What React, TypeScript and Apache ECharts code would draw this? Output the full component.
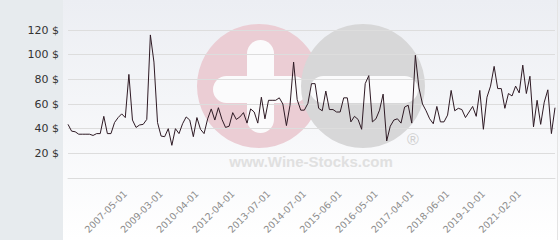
import React, { useEffect, useRef } from "react";
import * as echarts from "echarts";

const prices: number[] = [
  43.5, 38, 37.5, 35.5, 35.5, 35.5, 35.5, 34.5, 36, 36,
  50, 36, 36, 45, 49, 52, 49, 84, 47, 41,
  43, 43.5, 47.5, 116, 94, 45, 34, 33.5, 40, 26.5,
  40, 36, 44, 49.5, 47, 33.5, 49, 39.5, 36, 48,
  56, 47, 57, 47.5, 41, 42, 53, 47.5, 49.5, 53,
  44.5, 56, 53.5, 44.5, 65.5, 48, 63, 63, 63, 65,
  60, 42.5, 59, 94, 63.5, 55, 55, 60.5, 76.5, 76.5,
  56.5, 54.5, 70.5, 55.5, 55.5, 53.5, 53.5, 65, 65, 45.5,
  50, 47.5, 39.5, 76.5, 83, 45.5, 48, 55, 68, 30,
  42, 47, 48, 44.5, 57.5, 59, 44.5, 99.5, 73, 60,
  54.5, 48, 44, 58, 45.5, 45.5, 51, 71, 54.5, 56.5,
  55.5, 49, 53.5, 58, 50, 71, 39.5, 65.5, 74.5, 90.5,
  72.5, 72.5, 56.5, 68.5, 66.5, 74.5, 69, 91.5, 68.5, 82.5,
  41.5, 63, 43.5, 61.5, 71.5, 36, 57,
];

const tickDates: string[] = [
  "2007-05-01", "2009-03-01", "2010-04-01", "2012-04-01", "2013-07-01", "2014-07-01",
  "2015-06-01", "2016-05-01", "2017-04-01", "2018-06-01", "2019-10-01", "2021-02-01",
];
// index in the price list where each dated tick falls
const tickIndices: number[] = [16, 26, 36, 46, 56, 66, 76, 86, 96, 106, 116, 126];

const yTicks: number[] = [0, 20, 40, 60, 80, 100, 120];

const categories: string[] = prices.map((_, i) => {
  const k = tickIndices.indexOf(i);
  return k >= 0 ? tickDates[k] : `p${i}`;
});

export default function App() {
  const ref = useRef<HTMLDivElement>(null);
  useEffect(() => {
    if (!ref.current) return;
    const chart = echarts.init(ref.current, undefined, { renderer: "svg" });
    chart.setOption({
      animation: false,
      graphic: {
        elements: [
          {
            type: "rect", z: -20, silent: true,
            shape: { x: 0, y: 0, width: 560, height: 240 },
            style: {
              fill: new echarts.graphic.LinearGradient(0, 0, 0, 1, [
                { offset: 0, color: "#eceef3" },
                { offset: 1, color: "#ffffff" },
              ]),
            },
          },
          {
            type: "rect", z: -19, silent: true,
            shape: { x: 0, y: 0, width: 63, height: 240 },
            style: { fill: "#e7ebee" },
          },
          {
            type: "line", z: -19, silent: true,
            shape: { x1: 557.5, y1: 0, x2: 557.5, y2: 240 },
            style: { stroke: "#e4e4e4", lineWidth: 1 },
          },
          {
            type: "circle", z: -10, silent: true,
            shape: { cx: 259, cy: 86, r: 62 },
            style: { fill: "#ebcdd4" },
          },
          {
            type: "rect", z: -9, silent: true,
            shape: { x: 247, y: 40, width: 27, height: 93, r: 13.5 },
            style: { fill: "#fbfbfc" },
          },
          {
            type: "rect", z: -9, silent: true,
            shape: { x: 213, y: 76, width: 94, height: 27, r: 13.5 },
            style: { fill: "#fbfbfc" },
          },
          {
            type: "circle", z: -8, silent: true,
            shape: { cx: 363, cy: 86, r: 62 },
            style: { fill: "#d7d7d8" },
          },
          {
            type: "rect", z: -7, silent: true,
            shape: { x: 310, y: 76, width: 108, height: 27, r: 13.5 },
            style: { fill: "#fbfbfc" },
          },
          {
            type: "text", z: -7, silent: true,
            x: 413, y: 139,
            style: {
              text: "®", fill: "#cfcfcf", font: "16px 'Liberation Sans'",
              textAlign: "center", textVerticalAlign: "middle",
            },
          },
          {
            type: "text", z: -7, silent: true,
            x: 311, y: 161,
            style: {
              text: "www.Wine-Stocks.com", fill: "#e0e0e0",
              font: "bold 15px 'Liberation Sans'",
              textAlign: "center", textVerticalAlign: "middle",
            },
          },
        ],
      },
      grid: { left: 68, right: 5, top: 30, bottom: 62 },
      xAxis: {
        type: "category",
        data: categories,
        boundaryGap: false,
        axisLine: { lineStyle: { color: "#dcdcdc" } },
        axisTick: { show: false },
        splitLine: { show: false },
        axisLabel: {
          rotate: 45,
          interval: (index: number) => tickIndices.indexOf(index) >= 0,
          formatter: (v: string) => (v.startsWith("p") ? "" : v),
          color: "#8c8c8c",
          fontSize: 9.5,
          fontFamily: "DejaVu Sans",
          margin: 14,
        },
      },
      yAxis: {
        type: "value",
        min: yTicks[0],
        max: yTicks[yTicks.length - 1],
        interval: 20,
        axisLine: { show: false },
        axisTick: { show: false },
        splitLine: { lineStyle: { color: "#dddddd", width: 1 } },
        axisLabel: {
          formatter: (v: number) => (v === 0 ? "" : `${v} $`),
          color: "#333333",
          fontSize: 11,
          fontFamily: "DejaVu Sans",
          margin: 9,
        },
      },
      series: [
        {
          type: "line",
          data: prices,
          showSymbol: false,
          lineStyle: { color: "#2e1a24", width: 1 },
          itemStyle: { color: "#2e1a24" },
        },
      ],
    });
    return () => chart.dispose();
  }, []);
  return (
    <div
      ref={ref}
      style={{ position: "absolute", left: 0, top: 0, width: 560, height: 240 }}
    />
  );
}
